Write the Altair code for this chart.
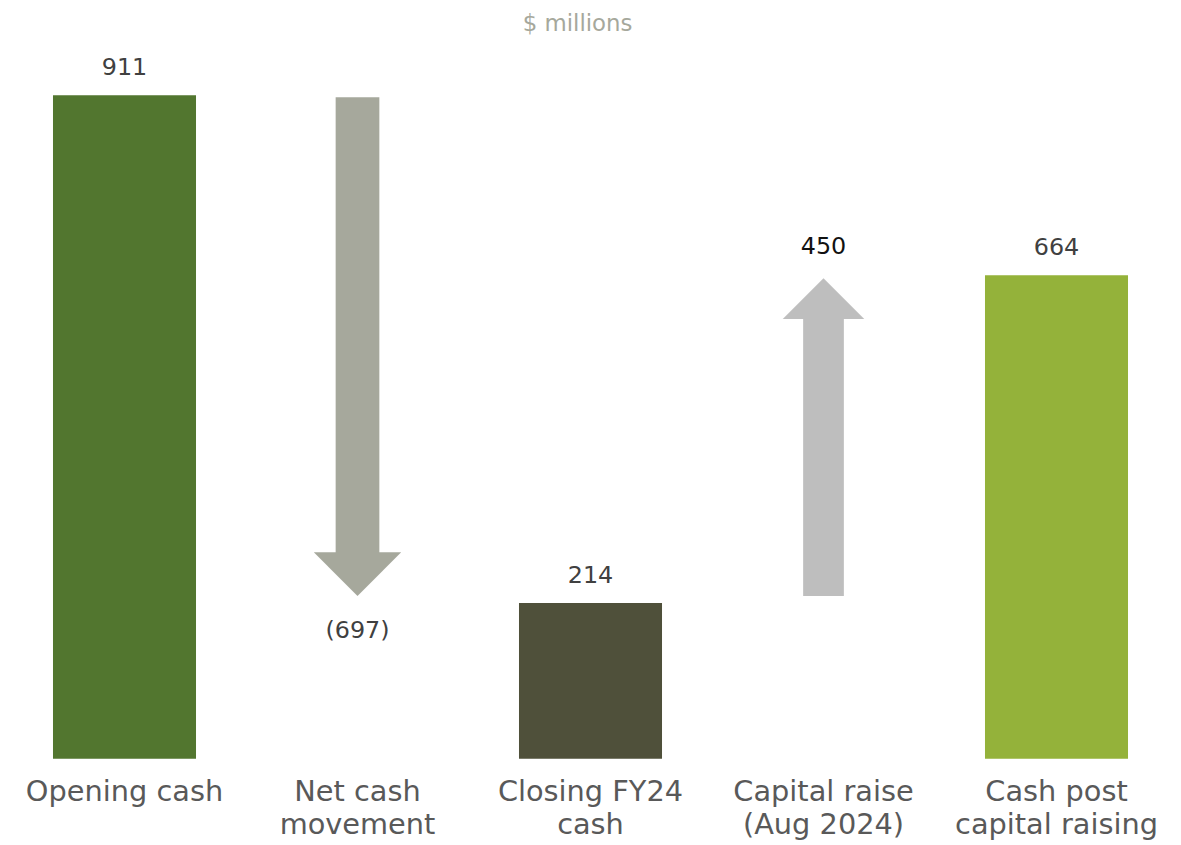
import altair as alt
import pandas as pd

categories = ["Opening cash", "Net cash\nmovement", "Closing FY24\ncash", "Capital raise\n(Aug 2024)", "Cash post\ncapital raising"]
amounts = [911, -697, 214, 450, 664]
kinds = ["total", "down", "total", "up", "total"]
labels = ["911", "(697)", "214", "450", "664"]
colors = ["#52762F", "#A6A89C", "#4F503A", "#BEBEBE", "#94B23A"]

starts, ends = [], []
running = 0
for a, k in zip(amounts, kinds):
    if k == "total":
        starts.append(0)
        ends.append(a)
        running = a
    else:
        starts.append(running)
        running = running + a
        ends.append(running)

df = pd.DataFrame({"category": categories, "start": starts, "end": ends,
                   "kind": kinds, "label": labels})

FONT = "DejaVu Sans"
x = alt.X("category:N", sort=categories,
          scale=alt.Scale(paddingInner=0.383, paddingOuter=0.1915),
          axis=alt.Axis(title=None, domain=False, ticks=False, labelAngle=0,
                        labelExpr="split(datum.label, '\\n')",
                        labelFont=FONT, labelFontSize=29, labelColor="#595959",
                        labelLineHeight=33, labelPadding=19, labelBaseline="top",
                        labelLimit=400, labelOverlap=False))
yscale = alt.Scale(domain=[0, 971], nice=False, zero=True)
color = alt.Color("category:N", sort=categories,
                  scale=alt.Scale(domain=categories, range=colors), legend=None)

base = alt.Chart(df)

bars = base.transform_filter("datum.kind == 'total'").mark_bar(size=144).encode(
    x=x, y=alt.Y("end:Q", scale=yscale, axis=None), y2="start:Q", color=color)

down_shaft = base.transform_filter("datum.kind == 'down'").mark_bar(
    size=44, yOffset=2, y2Offset=-50).encode(
    x=x, y=alt.Y("start:Q", scale=yscale, axis=None), y2="end:Q", color=color)
down_head = base.transform_filter("datum.kind == 'down'").mark_point(
    shape="M-1,-1L1,-1L0,0Z", size=88 * 88, filled=True, opacity=1,
    strokeWidth=0, yOffset=-7).encode(
    x=x, y=alt.Y("end:Q", scale=yscale, axis=None), color=color)

up_shaft = base.transform_filter("datum.kind == 'up'").mark_bar(
    size=41, yOffset=-7, y2Offset=43).encode(
    x=x, y=alt.Y("start:Q", scale=yscale, axis=None), y2="end:Q", color=color)
up_head = base.transform_filter("datum.kind == 'up'").mark_point(
    shape="M-1,1L1,1L0,0Z", size=82 * 82, filled=True, opacity=1,
    strokeWidth=0, yOffset=3).encode(
    x=x, y=alt.Y("end:Q", scale=yscale, axis=None), color=color)

bar_text = base.transform_filter("datum.kind == 'total'").mark_text(
    font=FONT, fontSize=24, color="#404040", dy=-27, baseline="middle").encode(
    x=x, y=alt.Y("end:Q", scale=yscale, axis=None), text="label:N")
down_text = base.transform_filter("datum.kind == 'down'").mark_text(
    font=FONT, fontSize=24, color="#404040", dy=28, baseline="middle").encode(
    x=x, y=alt.Y("end:Q", scale=yscale, axis=None), text="label:N")
up_text = base.transform_filter("datum.kind == 'up'").mark_text(
    font=FONT, fontSize=24, color="#111111", dy=-28, baseline="middle").encode(
    x=x, y=alt.Y("end:Q", scale=yscale, axis=None), text="label:N")

chart = alt.layer(bars, down_shaft, up_shaft, down_head, up_head,
                  bar_text, down_text, up_text).properties(
    width=1173, height=712,
    title=alt.TitleParams("$ millions", font=FONT, fontSize=23, fontWeight="normal",
                          color="#A6A89C", anchor="middle", dx=-13, offset=16),
    autosize=alt.AutoSizeParams(type="none"),
    padding={"left": 0, "top": 41, "right": 0, "bottom": 100},
).configure_view(stroke=None)

chart.save("out.html", embed_options={"renderer": "svg", "actions": False})
